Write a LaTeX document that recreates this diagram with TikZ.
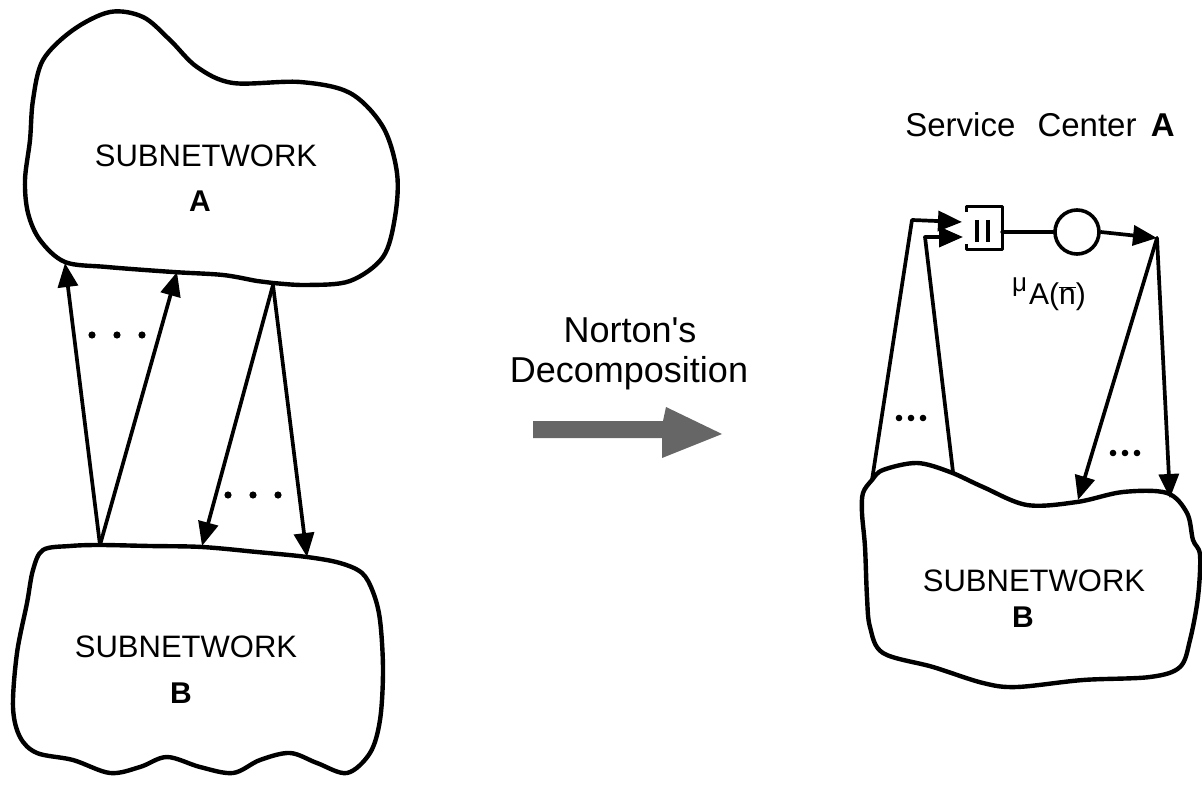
\documentclass[tikz,border=0pt]{standalone}
\usepackage{fontspec}
\newfontfamily\hv{Liberation Sans}
\usetikzlibrary{arrows.meta}
\begin{document}
\begin{tikzpicture}[x=1pt, y=-1pt, line join=round, line cap=round,
  cloud/.style={line width=4.4pt},
  plain/.style={line width=3.7pt},
  link/.style={line width=3.7pt, -{Triangle[length=24pt,width=20pt]}},
  subname/.style={inner sep=0pt, anchor=base, font=\hv\fontsize{31}{36}\selectfont},
  letter/.style={inner sep=0pt, anchor=base, font=\hv\bfseries\fontsize{30}{34}\selectfont},
  caption/.style={inner sep=0pt, anchor=base, font=\hv\fontsize{36}{40}\selectfont}]
\useasboundingbox (0,0) rectangle (1202,786);

% ---------- left: subnetwork A ----------
\draw[cloud] plot[smooth cycle, tension=0.55] coordinates {
  (43,60) (73,30) (110,12) (143,17) (170,40) (197,67) (233,83) (300,82)
  (350,93) (383,127) (397,173) (395,217) (383,257) (350,281) (307,285)
  (273,283) (257,281) (223,275) (173,272) (107,267) (65,262) (40,240)
  (28,213) (25,180) (30,140) (33,100)};
\node[subname] (subA) at (206,167) {SUBNETWORK};
\node[letter] (nameA) at (200,212) {A};

% ---------- left: subnetwork B ----------
\draw[cloud] plot[smooth cycle, tension=0.55] coordinates {
  (43,550) (70,546) (100,545) (150,546) (202,547) (257,552) (307,557)
  (340,563) (362,573) (373,592) (380,620) (383,670) (380,720) (370,753)
  (347,773) (317,763) (290,753) (260,760) (233,773) (200,767) (167,757)
  (140,767) (110,773) (73,760) (37,753) (20,737) (13,707) (17,653)
  (27,603) (33,570)};
\node[subname] (subB) at (186,657) {SUBNETWORK};
\node[letter] (nameB) at (181,703) {B};

% ---------- left: flows between A and B ----------
\coordinate (upfoot) at (100,545);
\coordinate (uptipa) at (65,263);
\coordinate (uptipb) at (177,272);
\coordinate (downtop) at (273,285);
\coordinate (downtipa) at (202,546);
\coordinate (downtipb) at (307,557);
\draw[link] (upfoot) -- (uptipa);
\draw[link] (upfoot) -- (uptipb);
\draw[link] (downtop) -- (downtipa);
\draw[link] (downtop) -- (downtipb);
\foreach \x in {92,117,142} \fill (\x,335) circle (3.6pt);
\foreach \x in {228,253,278} \fill (\x,495) circle (3.6pt);

% ---------- middle: transformation ----------
\node[caption] (norton) at (630,342) {Norton's};
\node[caption] (decomp) at (629,382) {Decomposition};
\fill[black!60] (533,421) -- (663,421) -- (666,407) -- (722,434)
  -- (662,458) -- (662,438) -- (533,438) -- cycle;

% ---------- right: service center A ----------
\node[inner sep=0pt, anchor=base, font=\hv\fontsize{33}{36}\selectfont] (sclabel) at (1040,137)
  {Service\hspace{13pt} Center\hspace{5pt} \textbf{A}};
\node[minimum width=35pt, minimum height=42pt, inner sep=0pt] (queue) at (984.5,228) {};
\draw[line width=3pt, line cap=butt]
  ([yshift=-5pt]queue.north west) -- (queue.north west) -- (queue.north east)
  -- (queue.south east) -- (queue.south west) -- ([yshift=5pt]queue.south west);
\draw[line width=3.2pt, line cap=butt] (977,220) -- (977,242) (988,220) -- (988,242);
\node[draw, circle, line width=3.6pt, minimum size=44pt, inner sep=0pt] (srv) at (1077,232) {};
\draw[plain] (srv.west) -- (srv.west -| queue.east);
\coordinate (fork) at (1157,238);
\draw[link] (srv.east) -- (fork);
\node[inner sep=0pt, anchor=base west, font=\hv] (rate) at (1012,292)
  {\fontsize{26}{28}\selectfont μ\kern2pt\fontsize{30}{32}\selectfont\raisebox{-13pt}{A($\overline{\mbox{n}}$)}};

% ---------- right: subnetwork B ----------
\draw[cloud] plot[smooth cycle, tension=0.55] coordinates {
  (872,480) (883,470) (917,463) (950,472) (983,487) (1027,505) (1077,502)
  (1123,492) (1167,493) (1187,513) (1193,540) (1200,555) (1198,597)
  (1190,640) (1180,667) (1150,677) (1083,680) (1017,687) (983,683)
  (933,667) (883,653) (870,627) (867,597) (865,547) (862,513) (863,493)};
\node[subname] (subBr) at (1034,591) {SUBNETWORK};
\node[letter] (nameBr) at (1023,627) {B};

% ---------- right: flows through the service center ----------
\coordinate (infoota) at (872,480);
\coordinate (inbenda) at (912,220);
\coordinate (intipa) at (962,222);
\coordinate (infootb) at (953,472);
\coordinate (inbendb) at (925,237);
\coordinate (intipb) at (963,237);
\coordinate (outtipa) at (1078,500);
\coordinate (outtipb) at (1170,498);
\draw[link] (infoota) -- (inbenda) -- (intipa);
\draw[link] (infootb) -- (inbendb) -- (intipb);
\draw[link] (fork) -- (outtipa);
\draw[link] (fork) -- (outtipb);
\foreach \x in {899,911,923} \fill (\x,418) circle (3.3pt);
\foreach \x in {1113,1125,1137} \fill (\x,453) circle (3.3pt);
\end{tikzpicture}
\end{document}
